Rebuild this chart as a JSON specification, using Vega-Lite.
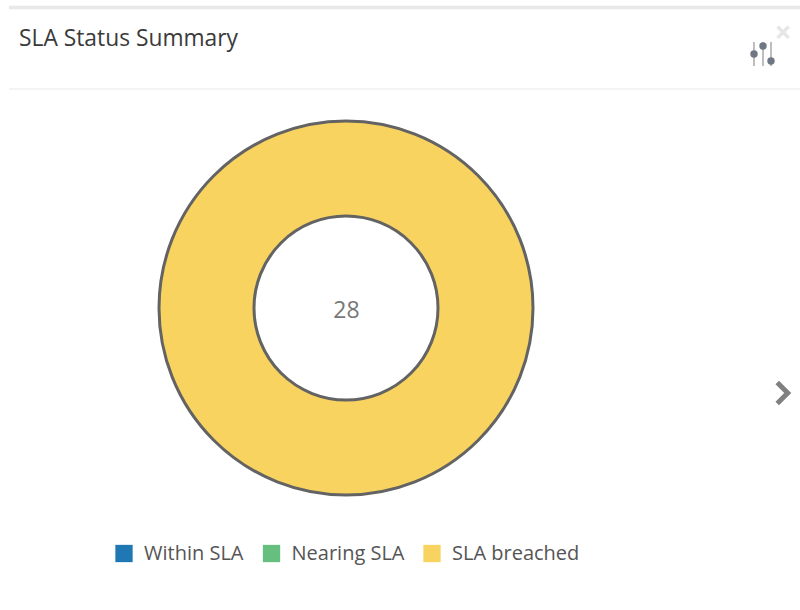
{
"$schema":"https://vega.github.io/schema/vega-lite/v6.json",
"width":800,"height":610,"padding":0,
"autosize":{"type":"none"},
"background":"#ffffff",
"view":{"stroke":null},
"data":{"values":[{"status":"Within SLA","count":0},{"status":"Nearing SLA","count":0},{"status":"SLA breached","count":28}]},
"layer":[
{"mark":{"type":"arc","outerRadius":187,"innerRadius":92,"stroke":"#636363","strokeWidth":3},
 "encoding":{
  "x":{"datum":346,"type":"quantitative","scale":{"domain":[0,800],"nice":false,"zero":false},"axis":null},
  "y":{"datum":308,"type":"quantitative","scale":{"domain":[0,610],"reverse":true,"nice":false,"zero":false},"axis":null},
  "theta":{"field":"count","type":"quantitative","stack":true},
  "order":{"field":"status","sort":"descending"},
  "strokeOpacity":{"condition":{"test":"datum.count>0","value":1},"value":0},
  "color":{"field":"status","type":"nominal","sort":["Within SLA","Nearing SLA","SLA breached"],
   "scale":{"domain":["Within SLA","Nearing SLA","SLA breached"],"range":["#1f78b4","#66bf7f","#f9d35f"]},
   "legend":{"orient":"none","legendX":114,"legendY":543.5,"direction":"horizontal","title":null,"symbolType":"square","symbolSize":300,"symbolStrokeWidth":0,"labelFont":"Open Sans","labelFontSize":20,"labelColor":"#555555","columnPadding":17.5,"labelOffset":10,"labelLimit":200}}
 }},
{"transform":[{"aggregate":[{"op":"sum","field":"count","as":"total"}]}],
 "mark":{"type":"text","font":"Open Sans","fontSize":23,"color":"#777777","align":"center","baseline":"middle"},
 "encoding":{"x":{"datum":346.5,"type":"quantitative"},"y":{"datum":311,"type":"quantitative"},"text":{"field":"total","type":"quantitative"}}},
{"data":{"values":[{"t":"SLA Status Summary"}]},
 "mark":{"type":"text","font":"Open Sans","fontSize":22.8,"color":"#3a3a3a","align":"left","baseline":"middle"},
 "encoding":{"x":{"datum":19,"type":"quantitative"},"y":{"datum":39,"type":"quantitative"},"text":{"field":"t"}}},
{"data":{"values":[{"t":"×"}]},
 "mark":{"type":"text","font":"Open Sans","fontSize":30,"fontWeight":"bold","color":"#e6e6e6","align":"center","baseline":"middle"},
 "encoding":{"x":{"datum":783,"type":"quantitative"},"y":{"datum":34,"type":"quantitative"},"text":{"field":"t"}}},
{"mark":{"type":"rule","color":"#e8e8e8","strokeWidth":3.5},
 "data":{"values":[{}]},
 "encoding":{"x":{"datum":9,"type":"quantitative"},"x2":{"datum":800},"y":{"datum":7.5,"type":"quantitative"}}},
{"mark":{"type":"rule","color":"#f0f0f0","strokeWidth":1.5},
 "data":{"values":[{}]},
 "encoding":{"x":{"datum":9,"type":"quantitative"},"x2":{"datum":800},"y":{"datum":89,"type":"quantitative"}}},
{"mark":{"type":"rule","color":"#a9a9a9","strokeWidth":1.5},
 "data":{"values":[{}]},
 "encoding":{"x":{"datum":754,"type":"quantitative"},"y":{"datum":42,"type":"quantitative"},"y2":{"datum":66}}},
{"mark":{"type":"rule","color":"#a9a9a9","strokeWidth":1.5},
 "data":{"values":[{}]},
 "encoding":{"x":{"datum":763,"type":"quantitative"},"y":{"datum":42,"type":"quantitative"},"y2":{"datum":66}}},
{"mark":{"type":"rule","color":"#a9a9a9","strokeWidth":1.5},
 "data":{"values":[{}]},
 "encoding":{"x":{"datum":771,"type":"quantitative"},"y":{"datum":42,"type":"quantitative"},"y2":{"datum":66}}},
{"mark":{"type":"point","filled":true,"size":55,"color":"#6f7782","opacity":1},
 "data":{"values":[{}]},
 "encoding":{"x":{"datum":754,"type":"quantitative"},"y":{"datum":54,"type":"quantitative"}}},
{"mark":{"type":"point","filled":true,"size":55,"color":"#6f7782","opacity":1},
 "data":{"values":[{}]},
 "encoding":{"x":{"datum":763,"type":"quantitative"},"y":{"datum":46,"type":"quantitative"}}},
{"mark":{"type":"point","filled":true,"size":55,"color":"#6f7782","opacity":1},
 "data":{"values":[{}]},
 "encoding":{"x":{"datum":771,"type":"quantitative"},"y":{"datum":61,"type":"quantitative"}}},
{"mark":{"type":"point","filled":false,"shape":"M -0.55 -1 L 0.45 0 L -0.55 1","size":441,"strokeWidth":5,"color":"#808080","opacity":1},
 "data":{"values":[{}]},
 "encoding":{"x":{"datum":783,"type":"quantitative"},"y":{"datum":393,"type":"quantitative"}}}
]}
